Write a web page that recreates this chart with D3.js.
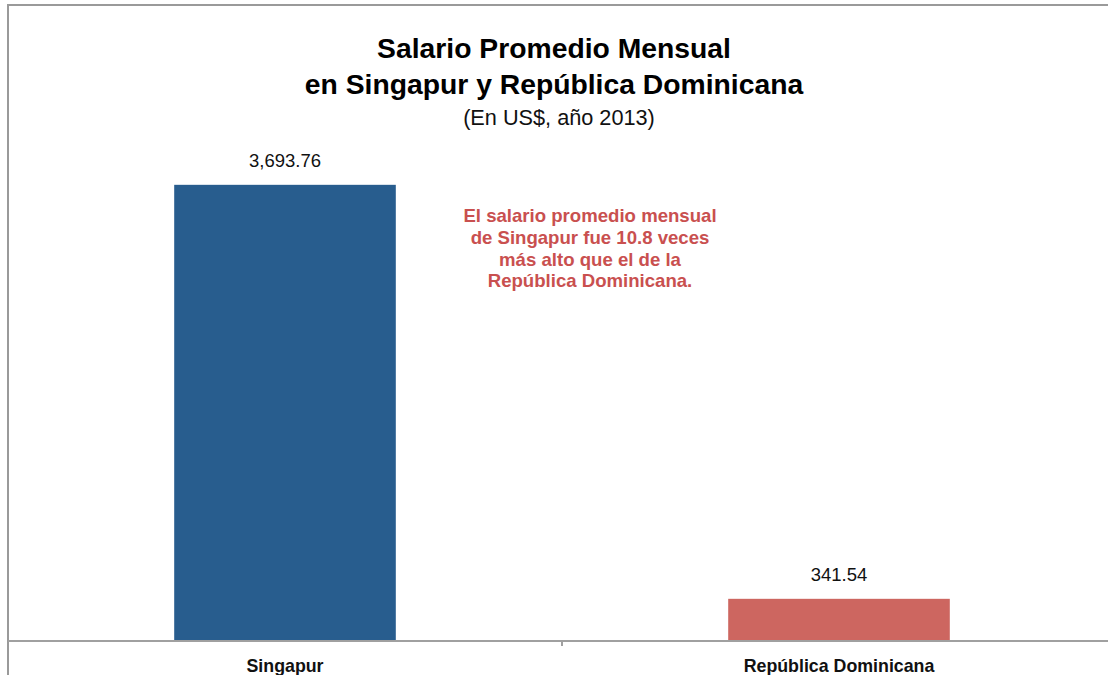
<!DOCTYPE html>
<html>
<head>
<meta charset="utf-8">
<script src="https://cdn.jsdelivr.net/npm/d3@7"></script>
<style>
  html, body { margin: 0; padding: 0; background: #fff; }
  svg { display: block; font-family: "Liberation Sans", Arial, Helvetica, sans-serif; }
</style>
</head>
<body>
<svg id="chart" width="1108" height="675"></svg>
<script>
// Average monthly wage, US$, 2013
const categories = ["Singapur", "República Dominicana"];
const values = [3693.76, 341.54];
const barColors = ["#285d8e", "#cd6660"];
const valueLabels = ["3,693.76", "341.54"];
const titleLines = ["Salario Promedio Mensual", "en Singapur y República Dominicana"];
const subtitle = "(En US$, año 2013)";
const noteLines = [
  "El salario promedio mensual",
  "de Singapur fue 10.8 veces",
  "más alto que el de la",
  "República Dominicana."
];

const svg = d3.select("#chart");
const W = 1108, H = 675;
const left = 8, right = 1116, baseY = 641, topY = 147;

const x = d3.scaleBand().domain(categories).range([left, right]).padding(0);
const y = d3.scaleLinear().domain([0, 4000]).range([baseY, topY]);
const barFrac = 0.4;

// frame lines (top and left)
svg.append("line").attr("x1", 7).attr("x2", W).attr("y1", 5).attr("y2", 5)
  .attr("stroke", "#9a9a9a").attr("stroke-width", 2);
svg.append("line").attr("x1", 8).attr("x2", 8).attr("y1", 4).attr("y2", H)
  .attr("stroke", "#9a9a9a").attr("stroke-width", 2);

// bars
svg.selectAll("rect.bar").data(categories).join("rect")
  .attr("class", "bar")
  .attr("x", d => x(d) + x.bandwidth() * (1 - barFrac) / 2)
  .attr("width", x.bandwidth() * barFrac)
  .attr("y", (d, i) => y(values[i]))
  .attr("height", (d, i) => y(0) - y(values[i]))
  .attr("fill", (d, i) => barColors[i]);

// x axis
const xAxis = d3.axisBottom(x).tickSize(0).tickPadding(0);
const gx = svg.append("g").attr("transform", `translate(0,${baseY})`).call(xAxis);
gx.select(".domain").remove();
gx.selectAll(".tick text")
  .attr("y", 31).attr("dy", 0)
  .attr("font-size", 17.8).attr("font-weight", "bold").attr("fill", "#111")
  .attr("font-family", "'Liberation Sans', Arial, sans-serif");
gx.selectAll(".tick line").remove();
svg.append("line").attr("x1", left).attr("x2", W).attr("y1", baseY).attr("y2", baseY)
  .attr("stroke", "#a0a0a0").attr("stroke-width", 2);
// divider tick between categories
svg.append("line")
  .attr("x1", x(categories[1])).attr("x2", x(categories[1]))
  .attr("y1", baseY).attr("y2", baseY + 5)
  .attr("stroke", "#a0a0a0").attr("stroke-width", 2);

// value labels
svg.selectAll("text.val").data(categories).join("text")
  .attr("class", "val")
  .attr("x", d => x(d) + x.bandwidth() / 2)
  .attr("y", (d, i) => y(values[i]) - 18)
  .attr("text-anchor", "middle")
  .attr("font-size", 18.5).attr("fill", "#111")
  .text((d, i) => valueLabels[i]);

// title
svg.selectAll("text.title").data(titleLines).join("text")
  .attr("class", "title")
  .attr("x", 554).attr("y", (d, i) => 58 + i * 35.5)
  .attr("text-anchor", "middle")
  .attr("font-size", 28.3).attr("font-weight", "bold").attr("fill", "#000")
  .text(d => d);
svg.append("text")
  .attr("x", 559).attr("y", 125)
  .attr("text-anchor", "middle")
  .attr("font-size", 21.7).attr("fill", "#111")
  .text(subtitle);

// annotation
svg.selectAll("text.note").data(noteLines).join("text")
  .attr("class", "note")
  .attr("x", 590).attr("y", (d, i) => 222 + i * 21.8)
  .attr("text-anchor", "middle")
  .attr("font-size", 18.6).attr("font-weight", "bold").attr("fill", "#c9504f")
  .text(d => d);
</script>
</body>
</html>
